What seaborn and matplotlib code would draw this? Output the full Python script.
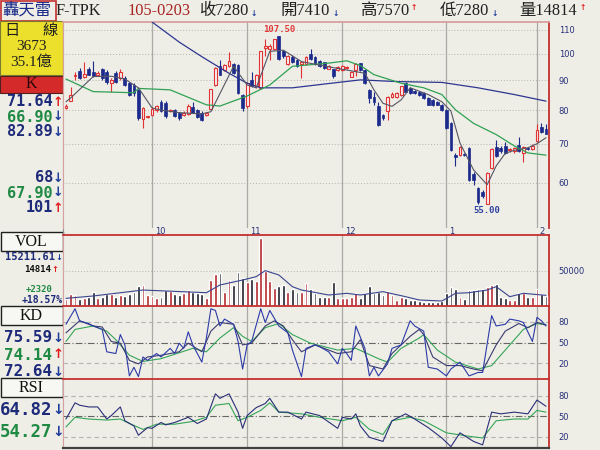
import numpy as np
import pandas as pd
import matplotlib
matplotlib.use("Agg")
import matplotlib.pyplot as plt
import matplotlib.transforms as mtransforms
from matplotlib.patches import Rectangle
from matplotlib.ticker import NullLocator, FixedLocator, FixedFormatter
import seaborn as sns

# ------------------------------------------------------------------ data
opens = [80.8, 83.0, 91.5, 93.5, 91.2, 94.0, 93.2, 92.1, 94.0, 93.2,
         89.2, 92.6, 90.7, 90.8, 89.0, 88.4, 86.7, 77.2, 77.7, 78.6,
         79.9, 82.7, 82.2, 79.6, 80.1, 79.2, 78.6, 78.8, 80.9, 80.1,
         79.2, 78.4, 80.4, 88.4, 95.2, 93.9, 95.3, 96.0, 95.5, 84.8,
         81.3, 90.2, 87.9, 87.4, 102.5, 101.9, 101.9, 107.4, 101.0, 96.0,
         98.9, 97.6, 95.9, 95.9, 100.0, 98.6, 97.3, 96.7, 94.2, 94.0,
         93.9, 93.8, 94.6, 91.4, 93.8, 96.3, 93.8, 86.7, 84.2, 81.3,
         78.5, 79.6, 84.2, 84.2, 84.8, 89.0, 87.4, 86.4, 86.1, 85.5,
         83.9, 83.3, 82.7, 81.7, 80.1, 75.9, 66.9, 67.0, 67.1, 68.8,
         62.2, 58.7, 57.9, 55.0, 63.5, 69.2, 68.8, 69.5, 68.2, 67.9,
         69.7, 67.5, 68.9, 68.6, 70.7, 74.7, 74.1]
highs = [82.0, 87.7, 93.2, 94.5, 97.0, 94.8, 97.2, 93.5, 94.5, 93.8,
         91.0, 93.5, 94.0, 91.5, 89.5, 89.0, 87.0, 81.0, 78.3, 81.0,
         81.5, 83.3, 83.0, 80.3, 80.5, 79.5, 79.6, 82.0, 82.5, 80.5,
         79.8, 79.4, 87.0, 95.0, 97.6, 96.0, 100.7, 96.6, 96.0, 85.2,
         89.3, 93.2, 92.5, 101.2, 106.3, 104.0, 106.3, 107.5, 101.5, 99.5,
         99.5, 98.0, 97.0, 99.0, 101.9, 99.0, 97.6, 97.0, 95.5, 94.3,
         95.2, 95.5, 95.2, 93.5, 96.3, 96.6, 94.2, 87.0, 86.1, 82.7,
         78.8, 84.5, 86.1, 85.8, 88.2, 89.3, 87.7, 86.8, 86.4, 85.8,
         84.2, 83.6, 83.0, 82.0, 80.4, 76.2, 67.5, 69.5, 67.6, 69.2,
         62.5, 59.0, 58.2, 62.6, 68.8, 71.1, 69.5, 70.5, 68.8, 69.2,
         71.9, 69.3, 69.2, 69.8, 75.8, 75.9, 75.7]
lows = [80.3, 82.8, 90.3, 90.5, 91.0, 91.8, 91.4, 91.5, 90.3, 88.9,
        86.1, 89.0, 90.3, 88.0, 84.5, 84.5, 77.0, 74.4, 77.5, 78.3,
        79.5, 79.5, 77.5, 79.3, 77.8, 76.8, 78.3, 78.5, 79.0, 77.5,
        76.7, 78.2, 80.0, 88.0, 91.8, 93.5, 95.0, 92.5, 85.3, 79.7,
        80.6, 87.8, 87.5, 87.0, 99.0, 97.5, 101.5, 97.5, 98.5, 95.7,
        96.5, 95.0, 90.8, 95.5, 97.5, 95.5, 95.0, 94.3, 94.0, 90.8,
        93.6, 93.5, 94.3, 91.1, 91.6, 93.5, 88.7, 82.2, 81.7, 75.0,
        76.8, 77.0, 84.0, 84.0, 84.5, 85.8, 85.2, 85.2, 84.5, 83.6,
        81.5, 81.4, 81.5, 79.8, 74.2, 68.1, 64.1, 66.8, 66.6, 60.3,
        59.5, 55.2, 56.5, 55.0, 63.2, 66.3, 67.5, 67.2, 67.8, 67.6,
        67.7, 65.1, 68.3, 68.4, 70.4, 73.0, 72.8]
closes = [81.4, 84.8, 91.8, 90.7, 92.3, 92.1, 91.7, 92.8, 90.7, 89.3,
          90.2, 89.6, 93.2, 88.5, 84.8, 85.5, 77.5, 80.8, 78.1, 80.4,
          81.2, 79.8, 78.0, 80.0, 78.2, 77.5, 79.2, 81.3, 79.2, 77.9,
          77.0, 79.1, 86.9, 94.5, 92.1, 95.5, 97.1, 92.8, 85.6, 80.8,
          89.0, 88.1, 92.1, 101.0, 103.0, 103.2, 105.9, 97.9, 99.0, 99.2,
          97.0, 95.2, 96.7, 98.6, 97.9, 95.9, 95.2, 94.6, 95.2, 91.6,
          94.9, 95.2, 94.8, 93.2, 96.0, 93.8, 89.0, 83.9, 82.7, 75.3,
          77.4, 84.2, 85.3, 85.5, 87.9, 86.1, 85.5, 85.5, 84.8, 83.9,
          81.7, 81.7, 81.7, 80.1, 74.4, 68.4, 66.5, 69.2, 66.9, 60.6,
          60.6, 55.5, 56.8, 62.4, 68.5, 66.6, 67.9, 67.5, 68.4, 68.8,
          68.0, 69.0, 68.6, 69.5, 73.9, 73.4, 72.8]
volumes = [9500, 16700, 15200, 9500, 11900, 13300, 20500, 11000, 13300, 16700,
           16700, 13300, 15200, 14300, 17600, 20500, 29000, 30000, 15700, 14300,
           11900, 13300, 22800, 21900, 17100, 15700, 18100, 22800, 20000, 18100,
           17100, 11000, 37100, 45200, 47600, 20500, 37100, 30000, 49000, 40500,
           34800, 38100, 35700, 97600, 50000, 35700, 25200, 28600, 30000, 20500,
           23800, 20500, 19500, 33300, 23800, 18100, 13300, 12400, 13300, 33800,
           11900, 11900, 11900, 13300, 18100, 11000, 18100, 28600, 18100, 20500,
           15700, 21400, 15700, 8600, 13300, 11900, 8600, 8600, 7100, 6200,
           6200, 6200, 6200, 7600, 19000, 27600, 24300, 13300, 10000, 22800,
           22800, 23800, 23800, 26600, 30000, 31400, 13300, 11000, 8600, 8600,
           18100, 18100, 13300, 13300, 23800, 17100, 14814]

# moving averages (day index, value)
ma_short_idx = [0, 1, 6, 10, 13, 16, 19, 21, 25, 30, 32, 37, 40, 42, 45, 48, 52, 58,
                66, 68, 70, 72, 74, 76, 80, 83, 85, 87, 90, 93, 95, 97, 99, 102, 104, 106]
ma_short_val = [82.7, 83.9, 91.4, 91.5, 90.5, 87.4, 80.7, 80.0, 79.2, 78.8, 79.5, 95.2,
                88.4, 87.4, 101.0, 101.5, 97.0, 95.0, 92.6, 86.7, 82.2, 81.2, 83.3, 87.4,
                85.1, 82.7, 79.7, 70.2, 63.1, 59.5, 64.1, 67.4, 68.2, 68.9, 70.0, 71.7]
ma_mid_idx = [0, 6, 15, 16, 23, 31, 34, 40, 45, 50, 58, 62, 65, 68, 74, 79, 83, 86,
              90, 95, 99, 102, 106]
ma_mid_val = [90.5, 86.1, 85.7, 87.2, 86.7, 81.7, 81.3, 84.6, 88.4, 95.2, 96.4, 97.3,
              95.5, 92.1, 89.0, 87.4, 85.1, 80.1, 75.9, 72.6, 69.4, 67.5, 66.9]
ma_long_idx = [19, 25, 30, 36, 40, 43, 50, 58, 65, 73, 83, 91, 99, 106]
ma_long_val = [113.5, 104.8, 98.9, 92.6, 89.0, 87.4, 87.4, 88.9, 90.2, 89.6, 89.3,
               87.4, 85.1, 82.9]
vol_ma_idx = [0, 6, 17, 31, 34, 39, 42, 44, 47, 50, 52, 54, 58, 62, 65, 70, 75, 78,
              83, 86, 89, 93, 95, 98, 101, 106]
vol_ma_val = [10900, 14300, 22800, 19000, 30000, 37100, 41900, 50500, 44300, 27600,
              22800, 20500, 15700, 18100, 15700, 20500, 13300, 8600, 7100, 18100,
              19000, 22800, 27600, 13300, 18100, 15211]

kd_fast_idx = [0, 2, 3, 5, 6, 8, 9, 11, 12, 13, 14, 15, 16, 17, 18, 20, 21, 23, 24, 25,
               26, 27, 28, 30, 31, 32, 33, 34, 35, 37, 38, 39, 40, 41, 43, 44, 45, 47, 49, 50,
               52, 53, 55, 56, 58, 60, 61, 62, 63, 64, 66, 67, 68, 69, 71, 72, 74, 76, 77, 79,
               80, 82, 84, 85, 87, 89, 91, 92, 94, 95, 97, 98, 100, 101, 103, 104, 105, 106]
kd_fast_val = [76.5, 99, 81.5, 77.5, 74, 69, 36.5, 34, 61.5, 46.5,
               1.5, 14, 0.5, 29, 24, 34, 29, 41.5, 34, 49,
               41.5, 65.5, 46.5, 21.5, 56.5, 99, 96.5, 74, 84, 76.5,
               51.5, 11.5, 46.5, 51.5, 99, 79, 96.5, 74, 64, 39,
               0.5, 41.5, 46.5, 44, 36.5, 19, 41.5, 34, 24, 74,
               41.5, 1.5, 14, 1.5, 19, 41.5, 46.5, 81.5, 74, 66.5,
               14, 11.5, 1.5, 11.5, 21.5, 1.5, 6.5, 6.5, 89, 74,
               76.5, 84, 81.5, 79, 51.5, 86.5, 81.5, 74]
kd_k_idx = [0, 3, 6, 8, 10, 12, 14, 16, 18, 21, 25, 27, 30, 32, 34, 37, 39, 41, 44, 46,
            48, 50, 52, 55, 58, 60, 63, 65, 67, 70, 72, 76, 78, 79, 81, 84, 87, 90, 92, 95,
            97, 100, 102, 104, 106]
kd_k_val = [64, 81.5, 74, 72.5, 51.5, 49, 24, 19, 29, 31.5,
            36.5, 49, 36.5, 66.5, 79, 76.5, 46.5, 49, 74, 81.5,
            74, 54, 36.5, 46.5, 39, 34, 36.5, 54, 16.5, 11.5,
            34, 59, 69, 61.5, 29, 16.5, 16.5, 11.5, 9, 46.5,
            66.5, 77.5, 71.5, 79, 75.5]
kd_d_idx = [0, 2, 6, 9, 11, 14, 17, 21, 28, 31, 34, 37, 39, 41, 44, 47, 50, 54, 60, 64,
            69, 71, 74, 78, 79, 82, 86, 91, 94, 98, 101, 104, 106]
kd_d_val = [51.5, 69, 74, 66.5, 54, 31.5, 22.5, 26.5, 41.5, 36.5,
            56.5, 71.5, 59, 51.5, 71.5, 77.5, 61.5, 49, 39, 41.5,
            26.5, 21.5, 41.5, 56.5, 61.5, 39, 21.5, 11.5, 16.5, 46.5,
            69, 77.5, 75.5]
rsi_s_idx = [0, 2, 3, 5, 7, 9, 10, 12, 13, 15, 16, 18, 19, 21, 22, 24, 27, 29, 31, 33,
             34, 36, 38, 39, 40, 42, 44, 45, 47, 49, 52, 53, 56, 60, 61, 63, 64, 65, 67, 70,
             72, 75, 77, 80, 83, 85, 87, 90, 92, 94, 96, 99, 102, 104, 106]
rsi_s_val = [46, 69.5, 66, 63.5, 63.5, 46, 51, 63.5, 43.5, 36,
             22.5, 33.5, 32.5, 41, 37.5, 41, 48.5, 39.5, 46, 82.5,
             76, 82.5, 56, 32.5, 51, 62.5, 68.5, 76, 56, 56,
             46, 56, 51, 32.5, 48.5, 46, 53.5, 36, 19.5, 13.5,
             43.5, 53.5, 46, 33.5, 18.5, 6, 26, 13.5, 8.5, 56,
             53.5, 56, 53.5, 73.5, 64.5]
rsi_l_idx = [0, 2, 5, 9, 12, 14, 17, 20, 24, 28, 31, 33, 36, 38, 40, 43, 45, 47, 52, 56,
             61, 64, 67, 70, 72, 76, 79, 84, 89, 92, 95, 99, 102, 104, 106]
rsi_l_val = [34.5, 48.5, 46, 44.5, 46, 39.5, 31, 38.5, 38.5, 42.5,
             48.5, 66, 68.5, 43.5, 48.5, 58.5, 69.5, 56, 53.5, 48.5,
             43.5, 48.5, 31, 23.5, 43.5, 48.5, 43.5, 26, 21, 18.5,
             43.5, 46, 46, 58.5, 56]

month_start = [19, 40, 61, 84, 104]
month_labels = ["10", "11", "12", "1", "2"]
price_ticks = [60, 70, 80, 90, 100, 110]
vol_ticks = [50000]
osc_ticks = [20, 50, 80]
high_label = "107.50"
low_label = "55.00"

title_name = "轟天雷"
title_code = "F-TPK"
title_date = "105-0203"
title_quotes = ["收7280", "開7410", "高7570", "低7280", "量14814"]
title_arrows = ["↓", "↓", "↑", "↓", "↑"]

box_lines = ["3673", "35.1億"]
k_values = ["71.64", "66.90", "82.89", "68", "67.90", "101"]
k_arrows = ["↑", "↓", "↓", "↓", "↓", "↑"]
vol_values = ["15211.61", "14814", "+2320", "+18.57%"]
vol_arrows = ["↓", "↑", "", ""]
kd_values = ["75.59", "74.14", "72.64"]
kd_arrows = ["↓", "↑", "↓"]
rsi_values = ["64.82", "54.27"]
rsi_arrows = ["↓", "↓"]

# ------------------------------------------------------------------ style
sns.set_theme(style="white")
plt.rcParams["font.family"] = ["DejaVu Sans", "Noto Sans CJK TC"]
plt.rcParams["axes.unicode_minus"] = False

BG = "#eeeee6"
NAVY = "#1e2a7a"
GREEN = "#1f8a44"
ARW_RED = "#e21c1c"
ARW_BLUE = "#1e3a9a"
FRAME_RED = "#c43030"
SOFT_RED = "#d8a0a0"
C_RED = "#e03434"
C_BLUE = "#1c2a8c"
V_RED = "#b3262c"
V_BLK = "#1c1c28"
VGRID = "#a9a9a6"
TICK_C = "#27307a"
SERIF = ["Liberation Serif", "Noto Sans CJK TC"]
MONO = ["DejaVu Sans Mono", "DejaVu Sans"]

fig = plt.figure(figsize=(6, 4.5), dpi=100, facecolor=BG)
ax_bg = fig.add_axes([0, 0, 1, 1], zorder=0)
ax_bg.set_xlim(0, 600)
ax_bg.set_ylim(450, 0)
ax_bg.axis("off")


def panel(x0, y0, x1, y1):
    a = fig.add_axes([x0 / 600, 1 - y1 / 450, (x1 - x0) / 600, (y1 - y0) / 450], zorder=1)
    a.set_facecolor(BG)
    return a


def right_ticks(a, ticks):
    a.yaxis.tick_right()
    a.yaxis.set_major_locator(FixedLocator(ticks))
    a.yaxis.set_minor_locator(NullLocator())
    a.yaxis.set_major_formatter(FixedFormatter([str(t) for t in ticks]))
    a.tick_params(axis="y", length=0, pad=7, labelsize=6, labelcolor=TICK_C)
    a.set_xticks([])
    a.set_xlabel("")
    a.set_ylabel("")


def frame(a, top=FRAME_RED, bottom=None):
    a.spines["left"].set_color(SOFT_RED)
    a.spines["left"].set_linewidth(0.8)
    a.spines["right"].set_color(FRAME_RED)
    a.spines["right"].set_linewidth(1.3)
    a.spines["top"].set_color(top)
    a.spines["top"].set_linewidth(1.3)
    if bottom is None:
        a.spines["bottom"].set_visible(False)
    else:
        a.spines["bottom"].set_color(bottom)
        a.spines["bottom"].set_linewidth(1.6)


df = pd.DataFrame(dict(day=np.arange(len(closes)), open=opens, high=highs,
                       low=lows, close=closes, volume=volumes))
df["up"] = df["close"] >= df["open"]
u = df["up"].values
XLIM = (-0.66, len(df) - 1 + 0.66)

# ------------------------------------------------------------------ price panel
axp = panel(63, 22, 549, 228)
axp.set_yscale("log")
for m in month_start:
    axp.axvline(m, color=VGRID, lw=0.9, zorder=1)
axp.vlines(df["day"], df["low"], df["high"], colors=np.where(u, C_RED, C_BLUE),
           lw=0.8, zorder=3)
body_lo = np.minimum(df["open"], df["close"])
body_h = np.maximum((df["close"] - df["open"]).abs(), 0.3)
axp.bar(df["day"][u], body_h[u], bottom=body_lo[u], width=0.62,
        facecolor="#f8eeee", edgecolor=C_RED, lw=0.8, zorder=4)
axp.bar(df["day"][~u], body_h[~u], bottom=body_lo[~u], width=0.62,
        facecolor=C_BLUE, edgecolor=C_BLUE, lw=0.5, zorder=4)
sns.lineplot(x=ma_long_idx, y=ma_long_val, ax=axp, color="#2d3690", lw=0.9,
             estimator=None, sort=False, zorder=5)
sns.lineplot(x=ma_mid_idx, y=ma_mid_val, ax=axp, color="#2fa153", lw=0.9,
             estimator=None, sort=False, zorder=5)
sns.lineplot(x=ma_short_idx, y=ma_short_val, ax=axp, color="#555565", lw=0.8,
             estimator=None, sort=False, zorder=5)
axp.set_xlim(*XLIM)
axp.set_ylim(50.1, 113.5)
right_ticks(axp, price_ticks)
axp.grid(axis="y", ls=(0, (1, 2)), color="#b5b5ad", lw=0.7)
frame(axp, top=SOFT_RED)
ih = int(np.argmax(highs))
il = int(np.argmin(lows))
axp.annotate(high_label, xy=(ih, highs[ih]), xytext=(0, 1.5), textcoords="offset points",
             ha="center", va="bottom", color="#e03a3a", fontsize=6.5,
             family=MONO, weight="bold", zorder=6)
axp.annotate(low_label, xy=(il, lows[il]), xytext=(0, -1.0), textcoords="offset points",
             ha="center", va="top", color="#3040a0", fontsize=6.5,
             family=MONO, weight="bold", zorder=6)
trans = mtransforms.blended_transform_factory(axp.transData, axp.transAxes)
for m, lab in zip(month_start, month_labels):
    axp.text(m + 0.6, -0.017, lab, transform=trans, ha="left", va="center",
             fontsize=6, color=TICK_C, clip_on=False)

# ------------------------------------------------------------------ volume panel
axv = panel(63, 235, 549, 306)
for m in month_start:
    axv.axvline(m, color=VGRID, lw=0.9, zorder=1)
axv.bar(df["day"], df["volume"], width=0.62, color=np.where(u, V_RED, V_BLK), zorder=3)
sns.lineplot(x=vol_ma_idx, y=vol_ma_val, ax=axv, color="#3a4590", lw=0.8,
             estimator=None, sort=False, zorder=4)
axv.set_xlim(*XLIM)
axv.set_ylim(0, 101400)
right_ticks(axv, vol_ticks)
axv.grid(axis="y", ls=(0, (1, 2)), color="#b5b5ad", lw=0.7)
frame(axv)

# ------------------------------------------------------------------ KD panel
axk = panel(63, 306, 549, 379)
for m in month_start:
    axk.axvline(m, color=VGRID, lw=0.9, zorder=1)
for lv in osc_ticks:
    if lv == 50:
        axk.axhline(lv, color="#666666", lw=0.8, ls=(0, (6, 2, 1, 2)), zorder=1)
    else:
        axk.axhline(lv, color="#b3b3b0", lw=0.8, ls=(0, (4, 3)), zorder=1)
sns.lineplot(x=kd_d_idx, y=kd_d_val, ax=axk, color="#35a558", lw=0.8,
             estimator=None, sort=False, zorder=3)
sns.lineplot(x=kd_k_idx, y=kd_k_val, ax=axk, color="#3a3a70", lw=0.8,
             estimator=None, sort=False, zorder=3)
sns.lineplot(x=kd_fast_idx, y=kd_fast_val, ax=axk, color="#2c3aa8", lw=0.8,
             estimator=None, sort=False, zorder=4)
axk.set_xlim(*XLIM)
axk.set_ylim(-3, 103)
right_ticks(axk, osc_ticks)
frame(axk)

# ------------------------------------------------------------------ RSI panel
axr = panel(63, 379, 549, 448)
for m in month_start:
    axr.axvline(m, color=VGRID, lw=0.9, zorder=1)
for lv in osc_ticks:
    if lv == 50:
        axr.axhline(lv, color="#666666", lw=0.8, ls=(0, (6, 2, 1, 2)), zorder=1)
    else:
        axr.axhline(lv, color="#b3b3b0", lw=0.8, ls=(0, (4, 3)), zorder=1)
sns.lineplot(x=rsi_l_idx, y=rsi_l_val, ax=axr, color="#35a558", lw=0.8,
             estimator=None, sort=False, zorder=3)
sns.lineplot(x=rsi_s_idx, y=rsi_s_val, ax=axr, color="#2a2f78", lw=0.8,
             estimator=None, sort=False, zorder=4)
axr.set_xlim(*XLIM)
axr.set_ylim(4, 104)
right_ticks(axr, osc_ticks)
frame(axr, bottom="#404040")

# ------------------------------------------------------------------ title strip
TFS = 11.8
ax_bg.add_patch(Rectangle((0.5, 0.5), 55, 20.5, fill=False, ec=FRAME_RED, lw=1.2))
ax_bg.text(2, 11, title_name, ha="left", va="center", fontsize=TFS, color="#1a2a8a",
           family=SERIF)
ax_bg.text(56, 11, title_code, ha="left", va="center", fontsize=TFS, color="#202020",
           family=SERIF)
ax_bg.text(128, 11, title_date, ha="left", va="center", fontsize=TFS, color="#a82222",
           family=SERIF)
q_x = [199, 281, 360, 440, 519]
a_x = [254, 336, 414, 495, 583]
for qx, q, axx, a in zip(q_x, title_quotes, a_x, title_arrows):
    ax_bg.text(qx, 11, q, ha="left", va="center", fontsize=TFS, color="#202020",
               family=SERIF)
    ax_bg.text(axx, 8 if a == "↑" else 14, a, ha="center", va="center", fontsize=5.5,
               color=ARW_RED if a == "↑" else ARW_BLUE, weight="bold")

# ------------------------------------------------------------------ left column
ax_bg.plot([63, 63], [21, 448], color="#909090", lw=0.8)
ax_bg.add_patch(Rectangle((0, 21), 62.5, 54, fc="#ece02c", ec="#7a7a30", lw=0.8))
ax_bg.text(12, 31, "日", ha="center", va="center", fontsize=11, color="#202020",
           family=SERIF)
ax_bg.text(50, 31, "線", ha="center", va="center", fontsize=11, color="#202020",
           family=SERIF)
ax_bg.text(31, 47, box_lines[0], ha="center", va="center", fontsize=11, color="#202020",
           family=SERIF)
ax_bg.text(31, 62, box_lines[1], ha="center", va="center", fontsize=11, color="#202020",
           family=SERIF)
ax_bg.add_patch(Rectangle((0, 76), 62.5, 17, fc="#d42a2a", ec="#502020", lw=0.8))
ax_bg.text(31, 84.5, "K", ha="center", va="center", fontsize=11.5, color="#2a0808",
           family=SERIF)

k_y = [102, 117, 132, 178, 193, 208]
k_col = [NAVY, GREEN, NAVY, NAVY, GREEN, NAVY]
for yy, v, a, c in zip(k_y, k_values, k_arrows, k_col):
    ax_bg.text(53, yy, v, ha="right", va="center", fontsize=11, color=c,
               family=MONO, weight="bold")
    ax_bg.text(58, yy, a, ha="center", va="center", fontsize=9,
               color=ARW_RED if a == "↑" else ARW_BLUE, weight="bold")

for y0, lab in [(232, "VOL"), (306, "KD"), (378, "RSI")]:
    ax_bg.add_patch(Rectangle((0.5, y0), 62, 19, fc="#f7f7f3", ec="#202020", lw=1.0))
    ax_bg.text(31, y0 + 10, lab, ha="center", va="center", fontsize=11.5,
               color="#101010", family=SERIF)

vol_y = [257, 269, 290, 300]
vol_col = [NAVY, "#101010", GREEN, NAVY]
vol_fs = [7.5, 6.5, 6.5, 7.0]
vol_rx = [55, 51, 53, 63]
for yy, v, a, c, fs, rx in zip(vol_y, vol_values, vol_arrows, vol_col, vol_fs, vol_rx):
    ax_bg.text(rx, yy, v, ha="right", va="center", fontsize=fs, color=c,
               family=MONO, weight="bold")
    if a:
        ax_bg.text(rx + 4, yy, a, ha="center", va="center", fontsize=6,
                   color=ARW_RED if a == "↑" else ARW_BLUE, weight="bold")

kd_y = [338, 355, 372]
kd_col = [NAVY, GREEN, NAVY]
for yy, v, a, c in zip(kd_y, kd_values, kd_arrows, kd_col):
    ax_bg.text(52, yy, v, ha="right", va="center", fontsize=11.5, color=c,
               family=MONO, weight="bold")
    ax_bg.text(58, yy, a, ha="center", va="center", fontsize=9.5,
               color=ARW_RED if a == "↑" else ARW_BLUE, weight="bold")

rsi_y = [410, 432]
rsi_col = [NAVY, GREEN]
for yy, v, a, c in zip(rsi_y, rsi_values, rsi_arrows, rsi_col):
    ax_bg.text(52, yy, v, ha="right", va="center", fontsize=12.5, color=c,
               family=MONO, weight="bold")
    ax_bg.text(58, yy, a, ha="center", va="center", fontsize=10,
               color=ARW_RED if a == "↑" else ARW_BLUE, weight="bold")

fig.savefig("out.png", dpi=100, facecolor=BG)
